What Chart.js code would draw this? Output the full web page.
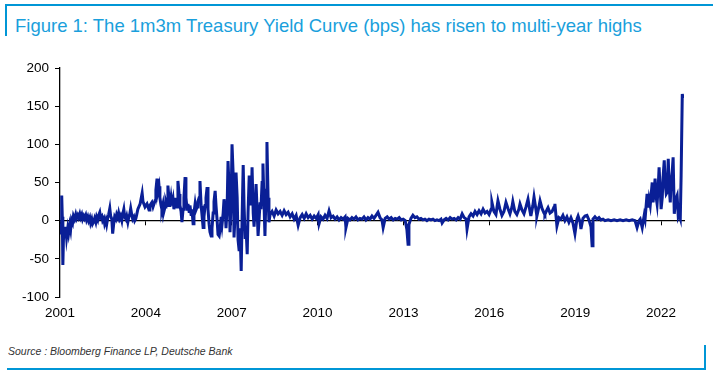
<!DOCTYPE html>
<html>
<head>
<meta charset="utf-8">
<script src="https://cdn.jsdelivr.net/npm/chart.js@4/dist/chart.umd.min.js"></script>
<style>
  html, body { margin: 0; padding: 0; background: #fff; }
  body { width: 717px; height: 378px; position: relative; overflow: hidden; font-family: "Liberation Sans", Arial, sans-serif; }
  .bar { position: absolute; background: #0096d6; }
  #title { position: absolute; left: 15px; top: 15px; font-size: 18.5px; color: #1a9fdc; white-space: nowrap; line-height: 22px; }
  #source { position: absolute; left: 8px; top: 345px; font-size: 10.5px; font-style: italic; color: #333; white-space: nowrap; line-height: 13px; }
  #wrap { position: absolute; left: 0; top: 0; width: 717px; height: 378px; }
</style>
</head>
<body>
<div class="bar" style="left:5px;top:4px;width:708px;height:2px;"></div>
<div class="bar" style="left:5px;top:4px;width:2px;height:32px;"></div>
<div id="title">Figure 1: The 1m3m Treasury Yield Curve (bps) has risen to multi-year highs</div>
<div id="source">Source : Bloomberg Finance LP, Deutsche Bank</div>
<div class="bar" style="left:7px;top:368px;width:699px;height:2px;"></div>
<div class="bar" style="left:704px;top:345px;width:2px;height:25px;"></div>
<div id="wrap"><canvas id="c" width="717" height="378"></canvas></div>
<script>
const dates = [
2001.00,2001.02,2001.04,2001.06,2001.08,2001.10,2001.12,2001.15,2001.17,2001.20,2001.23,2001.27,2001.30,2001.34,2001.37,2001.40,2001.44,2001.47,2001.51,2001.55,
2001.58,2001.62,2001.65,2001.69,2001.72,2001.76,2001.79,2001.83,2001.86,2001.90,2001.93,2001.97,2002.00,2002.04,2002.07,2002.11,2002.14,2002.18,2002.21,2002.25,
2002.28,2002.32,2002.35,2002.39,2002.42,2002.46,2002.49,2002.53,2002.56,2002.60,2002.63,2002.67,2002.70,2002.74,2002.77,2002.81,2002.84,2002.88,2002.91,2002.95,
2002.98,2003.02,2003.05,2003.09,2003.12,2003.16,2003.19,2003.23,2003.26,2003.30,2003.33,2003.37,2003.40,2003.44,2003.47,2003.51,2003.54,2003.58,2003.61,2003.65,
2003.68,2003.72,
2003.80,2003.87,2003.90,2003.97,2004.04,2004.11,2004.14,2004.21,2004.25,2004.32,2004.35,2004.39,2004.42,2004.46,2004.49,2004.53,2004.56,2004.60,2004.63,2004.67,
2004.70,2004.74,2004.77,2004.81,2004.84,2004.88,2004.91,2004.95,2004.98,2005.02,2005.05,2005.09,2005.12,2005.16,2005.19,2005.23,2005.26,2005.30,2005.33,2005.37,
2005.40,2005.44,2005.47,2005.51,2005.54,2005.58,2005.61,2005.65,2005.68,2005.72,2005.75,2005.79,2005.82,2005.86,2005.89,2005.93,2005.96,2006.00,2006.03,2006.07,
2006.10,2006.14,2006.17,2006.21,2006.24,2006.28,2006.31,2006.35,2006.38,2006.42,2006.45,2006.49,2006.52,2006.56,2006.59,2006.63,2006.66,2006.70,2006.73,2006.77,
2006.80,2006.84,2006.87,2006.91,2006.94,2006.98,2007.01,2007.05,2007.08,2007.12,2007.15,2007.19,2007.22,2007.26,2007.29,2007.33,2007.36,2007.40,2007.43,2007.47,
2007.50,2007.54,2007.57,2007.61,2007.64,2007.68,2007.71,2007.75,2007.78,2007.82,2007.85,2007.89,2007.92,2007.96,2007.99,2008.02,2008.06,2008.09,2008.13,2008.16,
2008.20,2008.23,2008.27,2008.30,
2008.34,2008.41,2008.48,2008.55,2008.62,2008.69,2008.76,2008.83,2008.90,2008.97,2009.04,2009.11,2009.18,2009.25,2009.32,2009.39,2009.46,2009.53,2009.60,2009.67,
2009.74,2009.81,2009.88,2009.95,2010.02,2010.05,2010.12,2010.19,2010.26,2010.33,2010.40,2010.47,2010.54,2010.61,2010.68,2010.75,2010.82,2010.89,2010.96,2010.99,
2011.06,2011.13,2011.20,2011.27,2011.34,2011.41,2011.48,2011.55,2011.62,2011.69,2011.76,2011.83,2011.90,2011.97,2012.04,2012.11,2012.18,2012.25,2012.29,2012.36,
2012.43,2012.50,2012.57,2012.64,2012.71,2012.78,2012.85,2012.92,2012.99,2013.06,2013.12,2013.16,2013.19,2013.26,2013.33,2013.40,2013.47,2013.54,2013.61,2013.68,
2013.75,2013.82,2013.89,2013.96,2014.03,2014.10,2014.17,2014.24,2014.31,2014.35,2014.42,2014.49,2014.56,2014.63,2014.70,2014.77,2014.84,2014.91,2014.98,2015.05,
2015.12,2015.19,2015.22,2015.29,2015.36,2015.43,2015.50,2015.57,2015.64,2015.71,2015.78,2015.85,2015.92,2015.99,2016.06,2016.09,2016.16,2016.23,2016.30,2016.37,
2016.44,2016.51,2016.58,2016.65,2016.72,2016.79,2016.82,2016.89,2016.96,2017.03,2017.07,2017.14,2017.21,2017.28,2017.35,2017.42,2017.45,2017.52,2017.56,2017.63,
2017.66,2017.73,2017.77,2017.84,2017.91,2017.94,2018.01,2018.05,2018.12,2018.19,2018.26,2018.29,2018.36,2018.43,2018.50,2018.57,2018.64,2018.71,2018.78,2018.85,
2018.92,2018.99,2019.06,2019.10,2019.17,2019.20,2019.27,2019.34,2019.41,2019.48,2019.55,2019.59,2019.62,2019.69,2019.76,2019.83,2019.90,2019.97,2020.04,2020.15,
2020.25,2020.36,2020.46,2020.57,2020.67,2020.78,2020.88,2020.99,2021.09,2021.16,2021.23,2021.27,2021.34,2021.41,2021.44,2021.51,2021.55,2021.58,2021.62,2021.69,
2021.72,2021.76,2021.79,2021.83,2021.86,2021.90,2021.93,2021.97,2022.00,2022.04,2022.07,2022.11,2022.14,2022.18,2022.21,2022.25,2022.28,2022.32,2022.35,2022.39,
2022.42,2022.46,2022.49,2022.53,2022.56,2022.60,2022.63,2022.67,2022.70,2022.74,2022.77
];
const curveBps = [
-12,-18,-6,33,5,-58,-25,-12,-20,-8,-22,-10,-17,-6,-12,1,-3,6,2,8,
3,7,4,9,4,8,2,6,3,7,1,5,0,4,-3,2,-4,-1,3,-2,
5,1,7,11,4,6,0,3,-4,1,-5,4,8,16,6,2,-17,-3,5,2,
8,4,10,3,6,0,8,15,5,2,6,-2,4,9,16,7,2,5,0,3,
8,15,
22,36,25,18,22,14,20,24,18,26,40,55,38,45,30,20,15,22,12,18,
25,20,46,28,18,30,20,28,15,25,30,18,52,35,20,12,-2,15,30,57,
30,15,22,12,20,8,15,-4,10,22,14,18,25,30,52,20,8,-9,5,20,
30,44,15,-5,-15,-20,-10,10,25,39,20,0,-18,-20,-12,5,-5,10,28,15,
-10,20,78,40,-15,30,100,60,-22,10,63,30,-25,-40,-10,-66,0,73,20,-24,
-10,-44,10,59,30,20,70,10,-8,20,48,10,-20,5,24,15,50,75,20,-20,
40,103,30,-2,
8,12,6,14,9,12,7,13,8,11,5,9,2,7,-6,4,8,3,9,4,
7,2,6,3,8,-4,5,2,7,3,13,4,6,2,5,1,4,2,5,-9,
3,1,4,2,5,1,3,2,5,1,4,2,6,3,7,11,4,1,-9,3,
5,2,4,1,3,2,4,1,2,0,-12,-31,-5,3,7,4,5,2,3,1,
2,0,2,1,2,0,1,0,2,-3,1,3,1,4,2,3,1,4,2,9,
4,2,-11,5,9,6,12,8,13,9,15,10,12,8,15,24,12,8,26,15,
7,12,24,16,9,18,25,12,8,15,22,14,9,18,28,12,6,20,31,14,
6,18,26,16,10,8,14,17,10,12,18,22,-7,4,2,7,0,5,-2,4,
-3,-17,2,6,-2,-11,3,6,7,1,-8,-33,2,5,2,4,1,2,0,1,
0,1,0,1,0,1,0,1,0,-9,0,2,-9,7,2,35,17,28,20,50,
24,40,55,30,22,45,70,40,15,30,57,79,50,35,37,81,45,24,50,65,
83,9,20,30,33,5,8,3,60,166,160
];
const tickYears = [2001, 2004, 2007, 2010, 2013, 2016, 2019, 2022];
const yTicks = [-100, -50, 0, 50, 100, 150, 200];

const points = dates.map((d, i) => ({ x: d, y: curveBps[i] }));
const fontFam = '"Liberation Sans", Arial, sans-serif';

new Chart(document.getElementById('c'), {
  type: 'line',
  data: {
    datasets: [{
      data: points,
      borderColor: '#0a1f96',
      borderWidth: 3,
      pointRadius: 0,
      tension: 0,
      fill: false
    }]
  },
  options: {
    responsive: false,
    animation: false,
    events: [],
    layout: { padding: { left: 16, right: 33, top: 68, bottom: 51 } },
    plugins: { legend: { display: false }, tooltip: { enabled: false } },
    scales: {
      x: {
        type: 'linear',
        position: 'bottom',
        min: 2001,
        max: 2022.8,
        afterBuildTicks: s => { s.ticks = tickYears.map(v => ({ value: v })); },
        afterFit: s => { s.height = 30; },
        ticks: { callback: v => String(v), color: '#000', font: { family: fontFam, size: 13.5 }, padding: 8, maxRotation: 0, autoSkip: false },
        grid: { display: false, drawTicks: false },
        border: { display: false }
      },
      x0: {
        type: 'linear',
        position: { y: 0 },
        min: 2001,
        max: 2022.8,
        afterBuildTicks: s => { s.ticks = tickYears.map(v => ({ value: v })); },
        ticks: { display: false },
        grid: { display: true, drawOnChartArea: false, drawTicks: true, tickLength: 4, color: '#000', lineWidth: 1 },
        border: { display: true, color: '#000', width: 1.3 }
      },
      y: {
        type: 'linear',
        position: 'left',
        min: -100,
        max: 200,
        afterBuildTicks: s => { s.ticks = yTicks.map(v => ({ value: v })); },
        afterFit: s => { s.width = 44; },
        ticks: { callback: v => String(v), color: '#000', font: { family: fontFam, size: 13.5 }, padding: 6 },
        grid: { display: true, drawOnChartArea: false, drawTicks: true, tickLength: 5, color: '#000', lineWidth: 1 },
        border: { display: true, color: '#000', width: 1.3 }
      }
    }
  }
});
</script>
</body>
</html>
